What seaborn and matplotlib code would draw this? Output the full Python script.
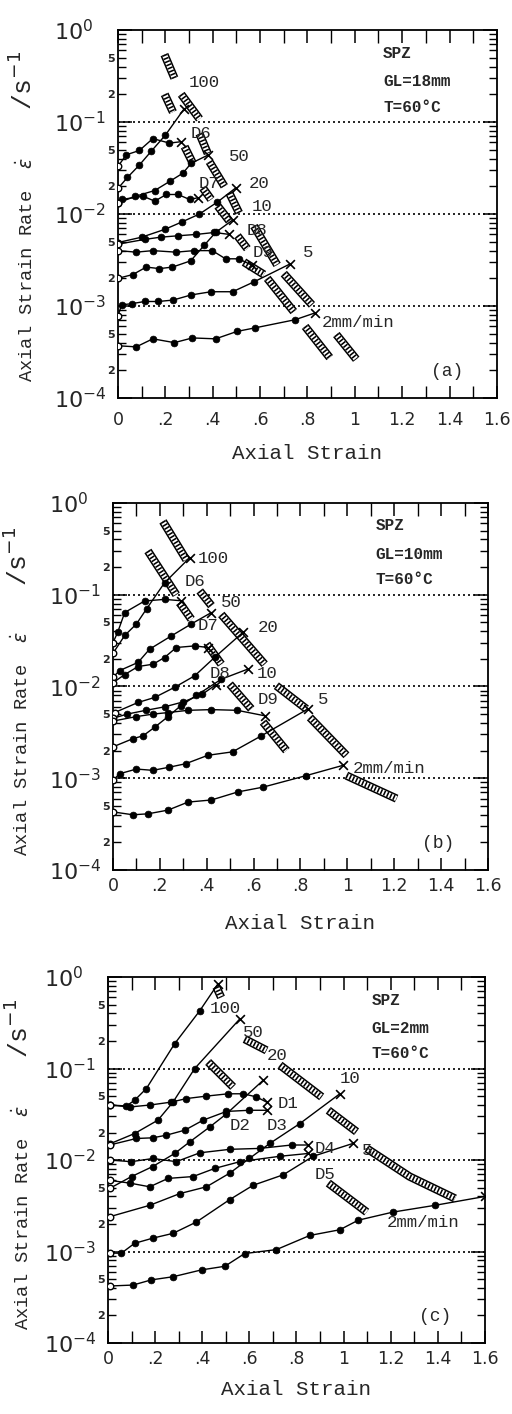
import numpy as np
import pandas as pd
import seaborn as sns
import matplotlib.pyplot as plt
from matplotlib.ticker import LogLocator, MultipleLocator, FuncFormatter, FixedLocator, FixedFormatter

# ---- panel (a)  GL=18mm : curves as (strain, strain rate /s) ----
a_100 = [(0.0, 0.019), (0.04, 0.025), (0.09, 0.034), (0.14, 0.048), (0.2, 0.072), (0.28, 0.14)]
a_D6 = [(0.0, 0.033), (0.035, 0.044), (0.09, 0.049), (0.147, 0.066), (0.217, 0.059), (0.265, 0.061)]
a_50 = [(0.0, 0.0132), (0.071, 0.0155), (0.155, 0.018), (0.218, 0.0226), (0.274, 0.0278), (0.309, 0.0356), (0.379, 0.0436)]
a_D7 = [(0.0, 0.0132), (0.015, 0.0144), (0.106, 0.0156), (0.155, 0.0138), (0.204, 0.0163), (0.253, 0.0163), (0.302, 0.0144), (0.337, 0.015)]
a_20 = [(0.0, 0.0049), (0.1, 0.0056), (0.197, 0.0068), (0.27, 0.0082), (0.344, 0.0100), (0.42, 0.0135), (0.497, 0.0192)]
a_D8 = [(0.0, 0.0047), (0.113, 0.0053), (0.18, 0.0056), (0.253, 0.0058), (0.33, 0.006), (0.407, 0.0063), (0.47, 0.006)]
a_10 = [(0.0, 0.002), (0.063, 0.0022), (0.119, 0.00265), (0.175, 0.00255), (0.23, 0.00265), (0.307, 0.0031), (0.365, 0.0046), (0.412, 0.0063), (0.484, 0.0086)]
a_D9 = [(0.0, 0.004), (0.077, 0.00385), (0.147, 0.004), (0.245, 0.00385), (0.321, 0.004), (0.398, 0.004), (0.454, 0.00326), (0.51, 0.00326), (0.566, 0.00277)]
a_5 = [(0.0, 0.00078), (0.015, 0.00103), (0.057, 0.00106), (0.113, 0.00112), (0.169, 0.00112), (0.232, 0.00116), (0.309, 0.00132), (0.393, 0.00143), (0.484, 0.00143), (0.574, 0.00183), (0.728, 0.00288)]
a_2 = [(0.0, 0.00037), (0.077, 0.00036), (0.147, 0.00044), (0.238, 0.0004), (0.314, 0.00045), (0.412, 0.00044), (0.503, 0.00053), (0.58, 0.00058), (0.748, 0.00071), (0.831, 0.00084)]
a_neck = [
    [(0.196, 0.54), (0.238, 0.30)], [(0.197, 0.20), (0.232, 0.128)], [(0.267, 0.20), (0.344, 0.108)],
    [(0.281, 0.054), (0.316, 0.0356)], [(0.344, 0.0746), (0.379, 0.0455)], [(0.386, 0.037), (0.449, 0.020)],
    [(0.358, 0.0192), (0.393, 0.0144)], [(0.421, 0.0122), (0.47, 0.0084)], [(0.47, 0.0169), (0.511, 0.0103)],
    [(0.504, 0.0058), (0.546, 0.0042)], [(0.574, 0.0074), (0.672, 0.0028)], [(0.532, 0.0030), (0.616, 0.0022)],
    [(0.63, 0.0020), (0.742, 0.00087)], [(0.70, 0.00225), (0.819, 0.00103)], [(0.79, 0.0006), (0.894, 0.000275)],
    [(0.922, 0.00049), (1.006, 0.000264)],
]
a_labels = [("100", 0.30, 0.27), ("D6", 0.305, 0.075), ("50", 0.468, 0.042), ("D7", 0.342, 0.0217),
            ("20", 0.552, 0.0217), ("10", 0.566, 0.0122), ("D8", 0.545, 0.0066), ("D9", 0.57, 0.0038),
            ("5", 0.78, 0.0038), ("2mm/min", 0.86, 0.00066)]

# ---- panel (b)  GL=10mm ----
b_100 = [(0.0, 0.023), (0.05, 0.036), (0.1, 0.048), (0.143, 0.07), (0.22, 0.135), (0.327, 0.253)]
b_D6 = [(0.0, 0.03), (0.02, 0.039), (0.05, 0.064), (0.135, 0.0855), (0.22, 0.089), (0.29, 0.086)]
b_50 = [(0.0, 0.0126), (0.028, 0.0149), (0.107, 0.0183), (0.156, 0.0255), (0.249, 0.0356), (0.334, 0.048), (0.42, 0.064)]
b_D7 = [(0.0, 0.011), (0.05, 0.0135), (0.107, 0.0165), (0.171, 0.0175), (0.22, 0.0207), (0.27, 0.0266), (0.349, 0.0277), (0.405, 0.0266)]
b_20 = [(0.007, 0.0052), (0.107, 0.0067), (0.178, 0.0076), (0.263, 0.0098), (0.349, 0.0131), (0.434, 0.0208), (0.555, 0.039)]
b_D8 = [(0.0, 0.0045), (0.06, 0.005), (0.14, 0.0055), (0.22, 0.006), (0.3, 0.0068), (0.38, 0.0082), (0.44, 0.0105)]
b_10 = [(0.0, 0.0022), (0.085, 0.0027), (0.128, 0.0029), (0.178, 0.0036), (0.235, 0.0047), (0.29, 0.0062), (0.356, 0.008), (0.462, 0.012), (0.576, 0.0155)]
b_D9 = [(0.0, 0.0042), (0.1, 0.0047), (0.17, 0.005), (0.235, 0.0052), (0.32, 0.0055), (0.42, 0.0056), (0.53, 0.0055), (0.647, 0.0048)]
b_5 = [(0.0, 0.00095), (0.028, 0.00112), (0.1, 0.00126), (0.17, 0.00122), (0.24, 0.00132), (0.31, 0.00144), (0.405, 0.00178), (0.51, 0.00194), (0.633, 0.0029), (0.832, 0.0057)]
b_2 = [(0.0, 0.00043), (0.085, 0.0004), (0.15, 0.00041), (0.235, 0.00045), (0.32, 0.00055), (0.42, 0.00058), (0.533, 0.00071), (0.64, 0.0008), (0.825, 0.00107), (0.98, 0.00138)]
b_neck = [
    [(0.213, 0.63), (0.313, 0.24)], [(0.149, 0.30), (0.27, 0.10)], [(0.284, 0.082), (0.334, 0.054)],
    [(0.37, 0.11), (0.42, 0.076)], [(0.462, 0.061), (0.647, 0.0175)], [(0.40, 0.029), (0.462, 0.0175)],
    [(0.498, 0.0106), (0.59, 0.0057)], [(0.697, 0.0102), (0.825, 0.0057)], [(0.84, 0.0046), (0.996, 0.00178)],
    [(0.64, 0.0041), (0.74, 0.0020)], [(0.996, 0.00107), (1.21, 0.0006)],
]
b_labels = [("100", 0.363, 0.25), ("D6", 0.306, 0.141), ("50", 0.462, 0.082), ("D7", 0.363, 0.046),
            ("20", 0.619, 0.044), ("D8", 0.413, 0.0137), ("10", 0.612, 0.0137), ("D9", 0.619, 0.0073),
            ("5", 0.875, 0.0073), ("2mm/min", 1.024, 0.00127)]

# ---- panel (c)  GL=2mm ----
c_100 = [(0.007, 0.040), (0.078, 0.039), (0.113, 0.045), (0.163, 0.0605), (0.283, 0.187), (0.39, 0.43), (0.467, 0.845)]
c_50 = [(0.007, 0.015), (0.113, 0.0195), (0.212, 0.0273), (0.276, 0.043), (0.368, 0.1), (0.56, 0.35)]
c_20 = [(0.007, 0.0049), (0.1, 0.0066), (0.19, 0.0085), (0.283, 0.0118), (0.347, 0.0158), (0.432, 0.023), (0.503, 0.032), (0.659, 0.0746)]
c_10 = [(0.007, 0.0024), (0.177, 0.0032), (0.305, 0.0043), (0.418, 0.0051), (0.517, 0.0072), (0.6, 0.0104), (0.687, 0.0152), (0.814, 0.025), (0.984, 0.053)]
c_5 = [(0.007, 0.00096), (0.057, 0.00096), (0.113, 0.00123), (0.19, 0.0014), (0.276, 0.00158), (0.375, 0.0021), (0.517, 0.0037), (0.616, 0.0053), (0.744, 0.0069), (0.871, 0.011), (1.04, 0.0152)]
c_2 = [(0.007, 0.00042), (0.106, 0.00043), (0.184, 0.00049), (0.276, 0.00053), (0.397, 0.00063), (0.496, 0.00069), (0.58, 0.00095), (0.715, 0.00105), (0.857, 0.0015), (0.984, 0.00173), (1.062, 0.0022), (1.21, 0.0027), (1.388, 0.0032), (1.6, 0.004)]
c_D1 = [(0.007, 0.04), (0.092, 0.038), (0.18, 0.04), (0.269, 0.043), (0.333, 0.047), (0.418, 0.05), (0.51, 0.053), (0.574, 0.053), (0.63, 0.049), (0.673, 0.043)]
c_D2 = [(0.007, 0.0146), (0.12, 0.0172), (0.19, 0.0175), (0.248, 0.0187), (0.326, 0.0212), (0.404, 0.0273), (0.503, 0.034), (0.6, 0.035), (0.673, 0.035)]
c_D3 = [(0.007, 0.01), (0.099, 0.0096), (0.191, 0.0104), (0.29, 0.0096), (0.39, 0.012), (0.517, 0.0131), (0.644, 0.0134), (0.779, 0.0146), (0.85, 0.0146)]
c_D4 = [(0.007, 0.006), (0.092, 0.0056), (0.177, 0.0051), (0.255, 0.0063), (0.361, 0.0066), (0.453, 0.0081), (0.56, 0.0096), (0.73, 0.011), (0.85, 0.0118)]
c_neck = [
    [(0.46, 0.78), (0.48, 0.6)], [(0.425, 0.118), (0.531, 0.063)], [(0.58, 0.21), (0.673, 0.158)],
    [(0.73, 0.109), (0.907, 0.049)], [(0.935, 0.035), (1.055, 0.0204)],
    [(1.098, 0.0134), (1.28, 0.0066), (1.473, 0.0038)], [(0.935, 0.0056), (1.098, 0.0027)],
]
c_labels = [("100", 0.432, 0.45), ("50", 0.574, 0.25), ("20", 0.673, 0.14), ("10", 0.984, 0.078),
            ("D1", 0.722, 0.041), ("D2", 0.517, 0.024), ("D3", 0.673, 0.024), ("D4", 0.878, 0.0134),
            ("5", 1.076, 0.0127), ("D5", 0.878, 0.0069), ("2mm/min", 1.183, 0.0021)]

x_ticks = [0, 0.2, 0.4, 0.6, 0.8, 1.0, 1.2, 1.4, 1.6]
x_ticklabels = ['0', '.2', '.4', '.6', '.8', '1', '1.2', '1.4', '1.6']
rate_levels = [1e-1, 1e-2, 1e-3]

panels = [
    ("(a)", "GL=18mm", [a_100, a_D6, a_50, a_D7, a_20, a_D8, a_10, a_D9, a_5, a_2], a_neck, a_labels),
    ("(b)", "GL=10mm", [b_100, b_D6, b_50, b_D7, b_20, b_D8, b_10, b_D9, b_5, b_2], b_neck, b_labels),
    ("(c)", "GL=2mm", [c_100, c_50, c_20, c_10, c_5, c_2, c_D1, c_D2, c_D3, c_D4], c_neck, c_labels),
]
# axes rectangles and label placement per panel
rects = [(0.2305, 0.7185, 0.740, 0.2603), (0.2207, 0.3847, 0.7324, 0.2596), (0.2109, 0.0502, 0.7363, 0.2588)]
xlab_y = [-0.150, -0.146, -0.126]
xtick_pad = [9, 5, 5]
ylab_x = [-0.215, -0.216, -0.200]
ylab_y0 = [0.043, 0.038, 0.036]
unit_y0 = [0.783, 0.774, 0.779]

sns.set_style("ticks")
plt.rcParams['font.family'] = ['DejaVu Sans']
plt.rcParams['mathtext.fontset'] = 'dejavusans'

fig = plt.figure(figsize=(5.12, 14.14), dpi=100)
mono = 'Liberation Mono'


def minor_fmt(v, pos):
    m = v / 10 ** np.floor(np.log10(v) + 1e-9)
    if abs(m - 2) < 0.01 or abs(m - 5) < 0.01:
        return str(int(round(m)))
    return ''


def major_fmt(v, pos):
    e = int(round(np.log10(v)))
    return r'$\mathregular{10^{%d}}$' % e


for i, ((tag, gl, curves, necks, labels), rect) in enumerate(zip(panels, rects)):
    ax = fig.add_axes(rect)
    ax.set_yscale('log')

    for lvl in rate_levels:
        ax.axhline(lvl, color='black', lw=1.2, ls=(0, (1.2, 1.8)), zorder=1)

    # necking (hatched) segments
    for band in necks:
        nd = pd.DataFrame(band, columns=['strain', 'rate'])
        ax.plot(nd.strain, nd.rate, color='black', lw=6.0, solid_capstyle='butt', zorder=2)
        ax.plot(nd.strain, nd.rate, color='white', lw=3.8, solid_capstyle='butt', zorder=2)
        ax.plot(nd.strain, nd.rate, color='black', lw=3.8, ls=(0, (0.3, 0.35)), zorder=2)

    for pts in curves:
        df = pd.DataFrame(pts, columns=['strain', 'rate'])
        sns.lineplot(data=df, x='strain', y='rate', sort=False, estimator=None,
                     color='black', lw=1.0, ax=ax, zorder=3)
        sns.scatterplot(data=df.iloc[1:-1], x='strain', y='rate', color='black',
                        s=24, edgecolor='black', linewidth=0.5, ax=ax, zorder=4)
        sns.scatterplot(data=df.iloc[[0]], x='strain', y='rate', color='white',
                        s=22, edgecolor='black', linewidth=1.0, ax=ax, zorder=4)
        sns.scatterplot(data=df.iloc[[-1]], x='strain', y='rate', color='black',
                        marker='x', s=40, linewidth=1.2, ax=ax, zorder=4)

    for txt, xs, yr in labels:
        ax.text(xs, yr, txt, fontsize=12.5, family=mono, ha='left', va='center', zorder=5)

    ax.text(0.70, 0.925, "SPZ", transform=ax.transAxes, fontsize=11.5, family=mono, fontweight='bold')
    ax.text(0.70, 0.848, gl, transform=ax.transAxes, fontsize=11.5, family=mono, fontweight='bold')
    ax.text(0.70, 0.778, "T=60\u00b0C", transform=ax.transAxes, fontsize=11.5, family=mono, fontweight='bold')
    ax.text(0.868, 0.072, tag, transform=ax.transAxes, fontsize=13, family=mono, ha='center', va='center')

    ax.set_xlim(0, 1.6)
    ax.set_ylim(1e-4, 1e0)
    ax.xaxis.set_major_locator(FixedLocator(x_ticks))
    ax.xaxis.set_major_formatter(FixedFormatter(x_ticklabels))
    ax.xaxis.set_minor_locator(MultipleLocator(0.1))
    ax.yaxis.set_major_locator(LogLocator(base=10, numticks=10))
    ax.yaxis.set_minor_locator(LogLocator(base=10, subs=np.arange(2, 10), numticks=20))
    ax.yaxis.set_minor_formatter(FuncFormatter(minor_fmt))
    ax.yaxis.set_major_formatter(FuncFormatter(major_fmt))

    ax.tick_params(which='both', direction='in', top=True, right=True, color='black')
    ax.tick_params(which='major', length=10, width=1.1)
    ax.tick_params(which='minor', length=6, width=1.0)
    ax.tick_params(axis='x', which='both', length=9, labelsize=12.5, pad=xtick_pad[i])
    ax.tick_params(axis='y', which='major', labelsize=16, pad=46)
    ax.tick_params(axis='y', which='minor', labelsize=8, pad=2)
    for lbl in ax.get_yticklabels():
        lbl.set_ha('left')
    for lbl in ax.get_yticklabels(minor=True):
        lbl.set_fontweight('bold')
    for sp in ax.spines.values():
        sp.set_linewidth(1.3)
        sp.set_color('black')

    ax.set_xlabel('Axial Strain', family=mono, fontsize=15)
    ax.xaxis.set_label_coords(0.5, xlab_y[i])
    ax.xaxis.label.set_va('center')
    ax.set_ylabel(r'Axial Strain Rate  $\dot{\varepsilon}$', family=mono, fontsize=13.5)
    ax.yaxis.set_label_coords(ylab_x[i], ylab_y0[i])
    ax.yaxis.label.set_ha('left')
    # unit part of the y title, set larger as in the original
    ax.text(ylab_x[i], unit_y0[i], r'/s$^{-1}$', transform=ax.transAxes, rotation=90,
            rotation_mode='anchor', ha='left', va='bottom', family=mono, fontsize=19, clip_on=False)

fig.savefig('out.png', dpi=100, facecolor='white')
